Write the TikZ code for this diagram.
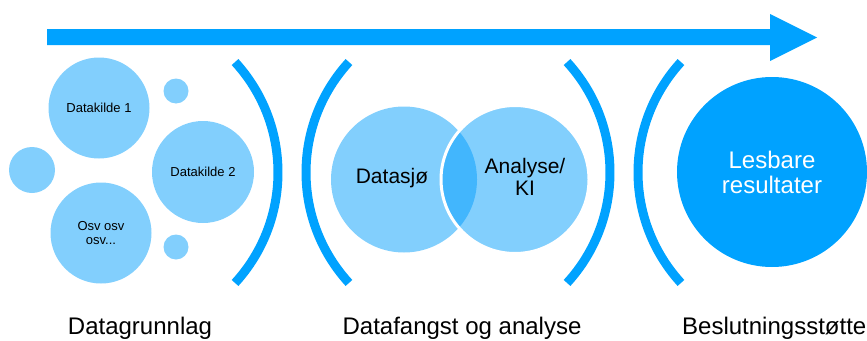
\documentclass[tikz,border=0pt]{standalone}
\usepackage{fontspec}
\setmainfont{Liberation Sans}
\definecolor{lightblue}{HTML}{82CFFD}
\definecolor{brightblue}{HTML}{00A2FF}
\definecolor{overlapblue}{HTML}{42B6FD}
\begin{document}
\begin{tikzpicture}[x=1pt,y=-1pt,
  bubble/.style={circle, fill=lightblue, draw=none, inner sep=0pt, align=center, text=black},
  smalltxt/.style={font=\fontsize{13}{14}\selectfont},
  midtxt/.style={font=\fontsize{21}{22}\selectfont},
  bigtxt/.style={font=\fontsize{24}{25}\selectfont},
  labeltxt/.style={font=\fontsize{24}{26}\selectfont, anchor=base, text=black, inner sep=0pt},
  bracketarc/.style={draw=brightblue, line width=9pt}
]
\useasboundingbox (0,0) rectangle (867,340);

% main arrow
\fill[brightblue] (47,29) -- (770,29) -- (770,14) -- (817,37.5) -- (770,61) -- (770,45) -- (47,45) -- cycle;

% left group
\node[bubble, smalltxt, minimum size=101pt] (dk1) at (99,108) {Datakilde 1};
\node[bubble, smalltxt, minimum size=102pt] (dk2) at (203,172) {Datakilde 2};
\node[bubble, smalltxt, minimum size=101pt] (osv) at (101,233) {Osv osv\\osv...};
\node[bubble, minimum size=25pt] (s1) at (176,91) {};
\node[bubble, minimum size=25pt] (s2) at (176,247) {};
\node[bubble, minimum size=46pt] (s3) at (32,170) {};

% brackets
\draw[bracketarc] (114.5,172.5) ++(-42.5:163.5) arc[start angle=-42.5, end angle=42.5, radius=163.5];
\draw[bracketarc] (469.5,172.5) ++(222.5:163.5) arc[start angle=222.5, end angle=137.5, radius=163.5];
\draw[bracketarc] (446.5,172.5) ++(-42.5:163.5) arc[start angle=-42.5, end angle=42.5, radius=163.5];
\draw[bracketarc] (801.5,172.5) ++(222.5:163.5) arc[start angle=222.5, end angle=137.5, radius=163.5];

% venn
\node[bubble, minimum size=146pt] (ds) at (404,179.5) {};
\node[bubble, minimum size=146pt] (ak) at (515,179.5) {};
\begin{scope}
  \clip (ds.center) circle[radius=73];
  \fill[overlapblue] (ak.center) circle[radius=73];
\end{scope}
\draw[white, line width=3pt] (ak.center) circle[radius=74];
\node[midtxt, text=black, anchor=base] (dstxt) at (392,183) {Datasjø};
\node[midtxt, text=black, align=center, anchor=base] (aktxt) at (525,195) {Analyse/\\KI};

% result
\node[circle, fill=brightblue, inner sep=0pt, minimum size=190pt, text=white, align=center, bigtxt] (lr) at (772,172) {Lesbare\\resultater};

% bottom labels
\node[labeltxt] (l1) at (140,334) {Datagrunnlag};
\node[labeltxt] (l2) at (462,334) {Datafangst og analyse};
\node[labeltxt, anchor=base west] (l3) at (682,334) {Beslutningsstøtte};
\end{tikzpicture}
\end{document}
